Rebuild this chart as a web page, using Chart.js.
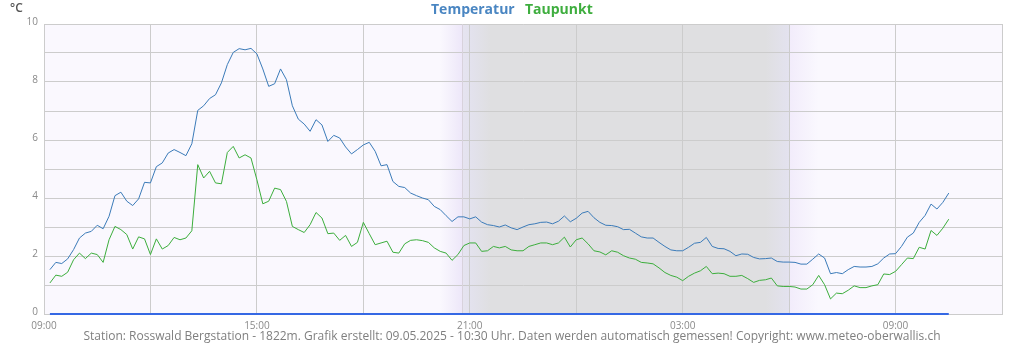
<!DOCTYPE html>
<html>
<head>
<meta charset="utf-8">
<script src="https://cdn.jsdelivr.net/npm/chart.js@4/dist/chart.umd.min.js"></script>
<style>
  html, body { margin: 0; padding: 0; background: #fff; }
  #wrap { width: 1024px; height: 350px; }
</style>
</head>
<body>
<div id="wrap"><canvas id="myChart" width="1024" height="350"></canvas></div>
<script>
// 10-minute values, 09:10 -> 10:30 next day
const startTime = '09:10';
const stepMinutes = 10;

const temperatur = [
  1.53, 1.78, 1.74, 1.90, 2.22, 2.62, 2.79, 2.85, 3.06, 2.94,
  3.37, 4.08, 4.20, 3.89, 3.74, 3.97, 4.54, 4.52, 5.08, 5.21,
  5.55, 5.67, 5.57, 5.46, 5.87, 7.02, 7.18, 7.43, 7.56, 7.97,
  8.60, 9.02, 9.15, 9.11, 9.16, 8.97, 8.45, 7.85, 7.94, 8.45,
  8.08, 7.18, 6.72, 6.55, 6.30, 6.70, 6.52, 5.95, 6.16, 6.07,
  5.76, 5.52, 5.67, 5.83, 5.92, 5.61, 5.11, 5.15, 4.57, 4.40,
  4.36, 4.17, 4.08, 4.00, 3.94, 3.71, 3.60, 3.39, 3.19, 3.35,
  3.35, 3.28, 3.35, 3.17, 3.08, 3.05, 3.00, 3.07, 2.97, 2.91,
  3.00, 3.08, 3.11, 3.16, 3.17, 3.11, 3.20, 3.38, 3.18, 3.30,
  3.48, 3.54, 3.32, 3.16, 3.06, 3.05, 3.01, 2.91, 2.92, 2.79,
  2.66, 2.62, 2.62, 2.47, 2.33, 2.21, 2.18, 2.18, 2.30, 2.44,
  2.47, 2.64, 2.33, 2.26, 2.25, 2.16, 2.01, 2.07, 2.06, 1.95,
  1.90, 1.91, 1.93, 1.81, 1.79, 1.79, 1.78, 1.72, 1.72, 1.89,
  2.07, 1.93, 1.39, 1.43, 1.39, 1.53, 1.64, 1.62, 1.62, 1.64,
  1.73, 1.93, 2.07, 2.08, 2.33, 2.65, 2.79, 3.16, 3.40, 3.79,
  3.62, 3.85, 4.17
];

const taupunkt = [
  1.07, 1.34, 1.30, 1.44, 1.87, 2.10, 1.91, 2.10, 2.05, 1.78,
  2.56, 3.02, 2.91, 2.74, 2.24, 2.66, 2.59, 2.05, 2.59, 2.24,
  2.36, 2.64, 2.56, 2.62, 2.87, 5.15, 4.69, 4.92, 4.52, 4.49,
  5.57, 5.78, 5.38, 5.49, 5.38, 4.63, 3.80, 3.89, 4.34, 4.29,
  3.88, 3.02, 2.91, 2.81, 3.08, 3.50, 3.31, 2.77, 2.79, 2.54,
  2.71, 2.33, 2.47, 3.16, 2.77, 2.39, 2.45, 2.51, 2.13, 2.10,
  2.42, 2.54, 2.56, 2.53, 2.47, 2.28, 2.16, 2.10, 1.85, 2.05,
  2.36, 2.45, 2.45, 2.16, 2.18, 2.33, 2.28, 2.33, 2.21, 2.18,
  2.18, 2.33, 2.39, 2.45, 2.45, 2.39, 2.45, 2.65, 2.31, 2.56,
  2.62, 2.42, 2.18, 2.14, 2.04, 2.18, 2.13, 2.01, 1.93, 1.89,
  1.78, 1.76, 1.73, 1.59, 1.43, 1.33, 1.27, 1.15, 1.30, 1.41,
  1.49, 1.64, 1.39, 1.41, 1.39, 1.30, 1.30, 1.33, 1.22, 1.09,
  1.16, 1.18, 1.24, 0.97, 0.95, 0.95, 0.93, 0.86, 0.86, 1.01,
  1.33, 1.01, 0.52, 0.72, 0.70, 0.82, 0.97, 0.91, 0.91, 0.97,
  1.01, 1.38, 1.36, 1.47, 1.70, 1.93, 1.91, 2.30, 2.24, 2.88,
  2.71, 2.96, 3.27
];

// night / twilight band
const duskStart = '20:10';
const sunset = '20:47';
const nightStart = '21:00';
const nightEnd = '06:00';
const dawnEnd = '06:50';

const footerText = 'Station: Rosswald Bergstation - 1822m. Grafik erstellt: 09.05.2025 - 10:30 Uhr. Daten werden automatisch gemessen! Copyright: www.meteo-oberwallis.ch';

// hours since 09:00 of the first day
function toHours(t) {
  const [h, m] = t.split(':').map(Number);
  let v = h + m / 60 - 9;
  if (v < 0) v += 24;
  return v;
}
function fmt(v) {
  const h = (9 + Math.round(v)) % 24;
  return String(h).padStart(2, '0') + ':00';
}

const t0 = toHours(startTime);
const tempPts = temperatur.map((y, i) => ({ x: t0 + i * stepMinutes / 60, y }));
const dewPts = taupunkt.map((y, i) => ({ x: t0 + i * stepMinutes / 60, y }));
const zeroPts = temperatur.map((_, i) => ({ x: t0 + i * stepMinutes / 60, y: 0 }));

const backdrop = {
  id: 'backdrop',
  beforeDraw(chart) {
    const { ctx, chartArea: a, scales: { x } } = chart;
    ctx.save();
    ctx.fillStyle = '#faf8fe';
    ctx.fillRect(a.left, a.top, a.right - a.left, a.bottom - a.top);
    const x0 = x.getPixelForValue(toHours(duskStart));
    const x1 = x.getPixelForValue(toHours(dawnEnd));
    const g = ctx.createLinearGradient(x0, 0, x1, 0);
    const stop = (t, c, d) => {
      const f = (x.getPixelForValue(toHours(t)) - x0) / (x1 - x0) + (d || 0);
      g.addColorStop(Math.min(1, Math.max(0, f)), c);
    };
    stop(duskStart, '#faf8fe');
    stop(sunset, '#ede7f9');
    stop(sunset, '#e6e4f0', 0.0005);
    stop(nightStart, '#e3e2ee');
    stop('21:35', '#dfdfe1');
    stop('05:20', '#dfdfe1');
    stop(nightEnd, '#e3e2ef');
    stop(nightEnd, '#f2ecfb', 0.0005);
    stop(dawnEnd, '#faf8fe');
    ctx.fillStyle = g;
    ctx.fillRect(x0, a.top, x1 - x0, a.bottom - a.top);
    ctx.restore();
  },
  beforeDatasetsDraw(chart) {
    const { ctx, chartArea: a, scales: { x } } = chart;
    const px = Math.round(x.getPixelForValue(toHours(sunset))) + 0.5;
    ctx.save();
    ctx.strokeStyle = '#d8d2dc';
    ctx.lineWidth = 1;
    ctx.beginPath();
    ctx.moveTo(px, a.top);
    ctx.lineTo(px, a.bottom);
    ctx.stroke();
    ctx.restore();
  },
  afterDraw(chart) {
    const { ctx } = chart;
    ctx.save();
    ctx.textBaseline = 'middle';
    ctx.textAlign = 'left';
    ctx.font = '600 12px "Open Sans"';
    ctx.fillStyle = '#555';
    ctx.fillText('°C', 10, 9);
    ctx.font = 'bold 14px "Open Sans"';
    ctx.fillStyle = '#4a86c2';
    ctx.fillText('Temperatur', 431, 10);
    ctx.fillStyle = '#3fae3f';
    ctx.fillText('Taupunkt', 525, 10);
    ctx.textAlign = 'center';
    ctx.font = '12px "Open Sans"';
    ctx.fillStyle = '#7f7f7f';
    ctx.fillText(footerText, 512, 337);
    ctx.restore();
  }
};

Chart.defaults.font.family = '"Open Sans", sans-serif';

new Chart(document.getElementById('myChart'), {
  type: 'line',
  data: {
    datasets: [
      { label: 'Taupunkt', data: dewPts, borderColor: '#3cae3c', borderWidth: 1, pointRadius: 0, tension: 0 },
      { label: 'Temperatur', data: tempPts, borderColor: '#3b7bb9', borderWidth: 1, pointRadius: 0, tension: 0 },
      { label: 'Null', data: zeroPts, borderColor: '#3568e4', borderWidth: 2, pointRadius: 0, clip: false }
    ]
  },
  options: {
    responsive: false,
    animation: false,
    layout: { padding: { top: 24, right: 22, left: 0, bottom: 0 } },
    plugins: {
      legend: { display: false },
      tooltip: { enabled: false }
    },
    scales: {
      x: {
        type: 'linear',
        min: 0,
        max: 27,
        afterFit: s => { s.height = 36; },
        grid: { color: '#cccccc', drawTicks: false },
        border: { color: '#cccccc' },
        ticks: {
          stepSize: 3,
          autoSkip: false,
          maxRotation: 0,
          padding: 6,
          color: '#8a8a8a',
          font: { size: 10 },
          callback: v => (v % 6 === 0 ? fmt(v) : '')
        }
      },
      y: {
        min: 0,
        max: 10,
        afterFit: s => { s.width = 44; },
        grid: { color: '#cccccc', drawTicks: false },
        border: { color: '#cccccc' },
        ticks: {
          stepSize: 1,
          padding: 6,
          labelOffset: -2,
          color: '#8a8a8a',
          font: { size: 10 },
          callback: v => (v % 2 === 0 ? v : '')
        }
      }
    }
  },
  plugins: [backdrop]
});
</script>
</body>
</html>
